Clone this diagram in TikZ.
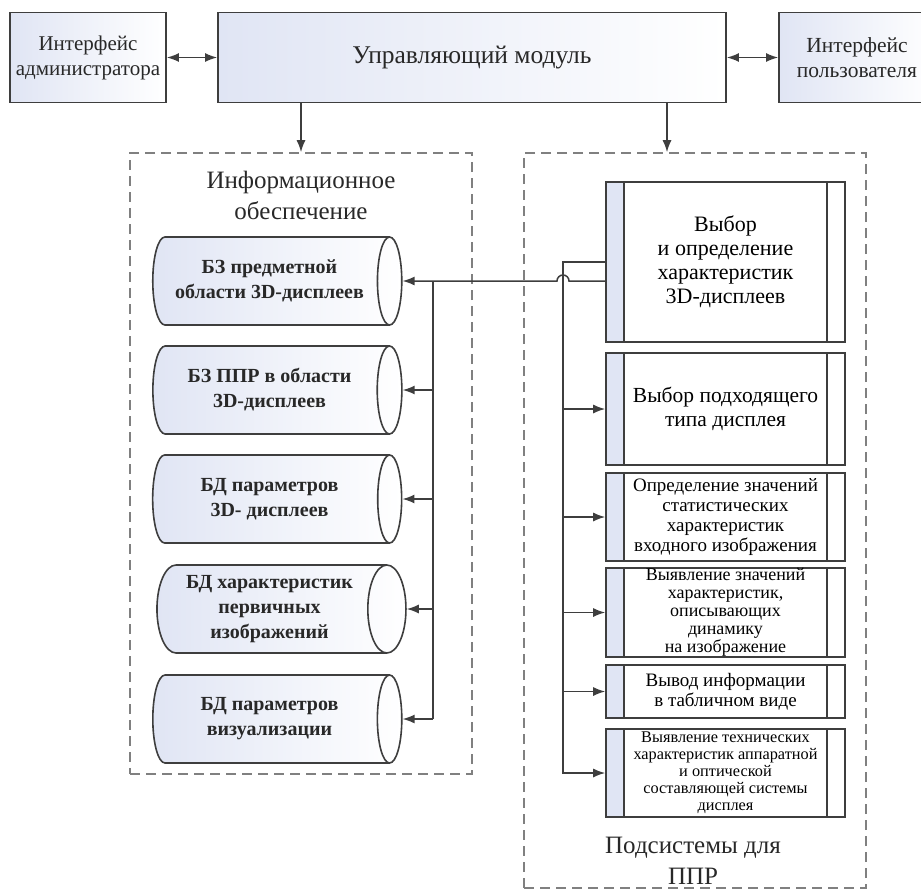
\documentclass[tikz,border=0pt]{standalone}
\usepackage{fontspec}
\setmainfont{Liberation Serif}
\usetikzlibrary{shapes.geometric,arrows.meta,calc}
\definecolor{linegray}{RGB}{62,62,62}
\definecolor{boxblue}{RGB}{224,229,244}
\definecolor{txtgray}{RGB}{40,40,40}
\begin{document}
\begin{tikzpicture}[x=1pt, y=-1pt, line width=1.5pt,
  topbox/.style={draw=linegray, line width=1.8pt, left color=boxblue, right color=white, minimum height=90pt, align=center, inner sep=2pt, text=txtgray},
  frame/.style={draw=gray, line width=1.6pt, dash pattern=on 10pt off 6pt, minimum width=342pt},
  dbase/.style={cylinder, draw=linegray, line width=1.6pt, left color=boxblue, right color=white, aspect=0.55,
    minimum width=88pt, minimum height=249pt, align=center, inner xsep=-20pt, inner ysep=1pt, text=txtgray, font=\bfseries\fontsize{20}{25}\selectfont},
  proc/.style={draw=linegray, line width=1.6pt, fill=white, minimum width=239pt, inner sep=1pt, align=center,
    path picture={
      \fill[boxblue] (path picture bounding box.north west) rectangle ([xshift=18pt]path picture bounding box.south west);
      \draw[linegray, line width=1.6pt] ([xshift=18pt]path picture bounding box.north west) -- ([xshift=18pt]path picture bounding box.south west)
        ([xshift=-18pt]path picture bounding box.north east) -- ([xshift=-18pt]path picture bounding box.south east);}},
  title/.style={align=center, text=txtgray, font=\fontsize{25}{31}\selectfont},
  arr/.style={draw=linegray, -{Latex[length=12pt,width=9pt]}},
  biarr/.style={draw=linegray, {Latex[length=12pt,width=9pt]}-{Latex[length=12pt,width=9pt]}},
  line/.style={draw=linegray}]
  \useasboundingbox (0,0) rectangle (921,892);

  \node[topbox, minimum width=156pt, font=\fontsize{21}{25}\selectfont] (adm) at (88,57.5) {Интерфейс\\администратора};
  \node[topbox, minimum width=508pt, font=\fontsize{25.5}{30}\selectfont] (ctrl) at (472,57.5) {Управляющий модуль};
  \node[topbox, minimum width=156pt, font=\fontsize{21.5}{25}\selectfont] (usr) at (857,57.5) {Интерфейс\\пользователя};
  \draw[biarr] (adm) -- (ctrl);
  \draw[biarr] (ctrl) -- (usr);

  \node[frame, minimum height=621pt] (info) at (301,463.5) {};
  \node[frame, minimum height=735pt] (subs) at (695,520.5) {};
  \node[title] (infottl) at (301,195) {Информационное\\обеспечение};
  \node[title] (substtl) at (693,861) {Подсистемы для\\ППР};
  \draw[arr] (ctrl.south -| info.north) -- (info.north);
  \draw[arr] ([xshift=-28pt]subs.north |- ctrl.south) -- ([xshift=-28pt]subs.north);

  \foreach \i/\y/\t in {1/281/{БЗ предметной\\области 3D-дисплеев}, 2/390/{БЗ ППР в области\\3D-дисплеев},
      3/499/{БД параметров\\3D- дисплеев}, 4/609/{БД характеристик\\первичных\\изображений},
      5/719/{БД параметров\\визуализации}}
    \node[dbase] (db\i) at (269.5,\y) {\t};

  \node[proc, minimum height=160pt, font=\fontsize{22}{24}\selectfont] (ss1) at (725.5,262) {Выбор\\и определение\\характеристик\\3D-дисплеев};
  \node[proc, minimum height=112pt, font=\fontsize{21.5}{24}\selectfont] (ss2) at (725.5,409) {Выбор подходящего\\типа дисплея};
  \node[proc, minimum height=88pt, font=\fontsize{19}{20}\selectfont] (ss3) at (725.5,517) {Определение значений\\статистических\\характеристик\\входного изображения};
  \node[proc, minimum height=89pt, inner sep=0pt, font=\fontsize{18}{18}\selectfont] (ss4) at (725.5,612.5) {Выявление значений\\характеристик,\\описывающих\\динамику\\на изображение};
  \node[proc, minimum height=53pt, font=\fontsize{19}{20}\selectfont] (ss5) at (725.5,691.5) {Вывод информации\\в табличном виде};
  \node[proc, minimum height=88pt, font=\fontsize{16.3}{17}\selectfont] (ss6) at (725.5,773) {Выявление технических\\характеристик аппаратной\\и оптической\\составляющей системы\\дисплея};

  \coordinate (lb) at (433,281);
  \coordinate (rb) at (563,262);
  \draw[line] (lb) -- (lb |- db5.east);
  \foreach \i in {2,...,5}
    \draw[arr] (lb |- db\i.east) -- (db\i.east);
  \draw[arr] (ss1.west |- db1.east) -- ($(rb |- db1.east)+(6,0)$) arc[start angle=0, end angle=-180, radius=6] -- (db1.east);
  \draw[line] (ss1.west) -- (rb) -- (rb |- ss5.west);
  \foreach \i in {2,...,5}
    \draw[arr] (rb |- ss\i.west) -- (ss\i.west);
  \draw[arr] (rb |- ss5.west) -- (rb |- ss6.west) -- (ss6.west);
\end{tikzpicture}
\end{document}
